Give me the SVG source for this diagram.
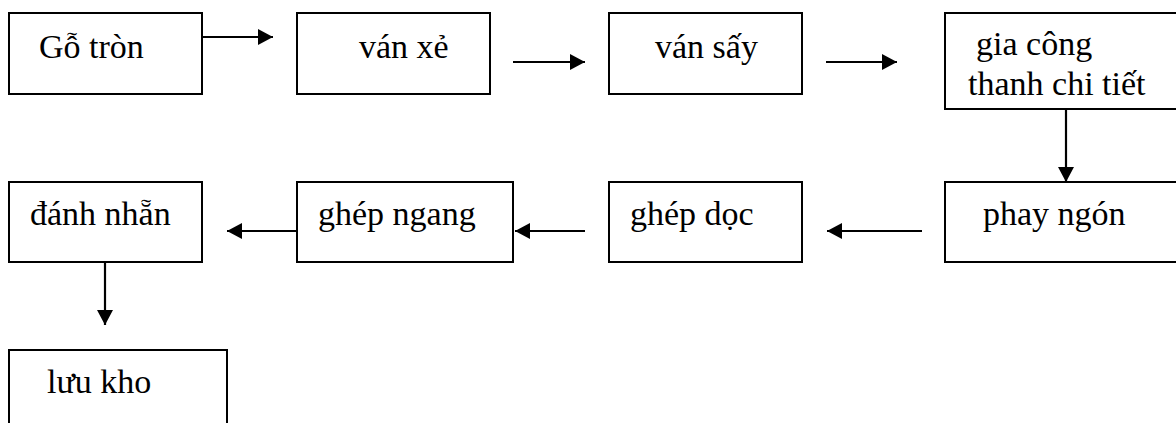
<svg xmlns="http://www.w3.org/2000/svg" width="1176" height="423" viewBox="0 0 1176 423">
  <style>
    .box { fill: #ffffff; stroke: #000000; stroke-width: 2; }
    .lbl { font-size: 34px; fill: #000000; }
    .conn { stroke: #000000; stroke-width: 2.2; fill: none; marker-end: url(#arrow); }
  </style>
  <defs>
    <marker id="arrow" markerUnits="userSpaceOnUse" markerWidth="17" markerHeight="17" refX="15" refY="8" orient="auto">
      <path d="M0,0 L15,8 L0,16 z" fill="#000000"/>
    </marker>
  </defs>
  <rect width="1176" height="423" fill="#ffffff"/>

  <g font-family="Liberation Serif, Times New Roman, DejaVu Serif, serif">
  <g id="go-tron">
    <rect class="box" x="9" y="13" width="193" height="81"/>
    <text class="lbl" x="39" y="58">Gỗ tròn</text>
  </g>
  <g id="van-xe">
    <rect class="box" x="297" y="13" width="193" height="81"/>
    <text class="lbl" x="359" y="58">ván xẻ</text>
  </g>
  <g id="van-say">
    <rect class="box" x="609" y="13" width="193" height="81"/>
    <text class="lbl" x="655" y="58">ván sấy</text>
  </g>
  <g id="gia-cong">
    <rect class="box" x="945" y="13" width="240" height="96"/>
    <text class="lbl" x="976" y="55">gia công</text>
    <text class="lbl" x="968" y="95">thanh chi tiết</text>
  </g>
  <g id="phay-ngon">
    <rect class="box" x="945" y="182" width="240" height="80"/>
    <text class="lbl" x="983" y="225">phay ngón</text>
  </g>
  <g id="ghep-doc">
    <rect class="box" x="609" y="182" width="193" height="80"/>
    <text class="lbl" x="630" y="225">ghép dọc</text>
  </g>
  <g id="ghep-ngang">
    <rect class="box" x="297" y="182" width="216" height="80"/>
    <text class="lbl" x="318" y="225">ghép ngang</text>
  </g>
  <g id="danh-nhan">
    <rect class="box" x="9" y="182" width="193" height="80"/>
    <text class="lbl" x="30" y="225">đánh nhẵn</text>
  </g>
  <g id="luu-kho">
    <rect class="box" x="9" y="350" width="218" height="90"/>
    <text class="lbl" x="47" y="393">lưu kho</text>
  </g>
  </g>

  <g id="connectors">
    <line class="conn" x1="202" y1="37" x2="273" y2="37"/>
    <line class="conn" x1="513" y1="62" x2="585" y2="62"/>
    <line class="conn" x1="826" y1="62" x2="897" y2="62"/>
    <line class="conn" x1="1066" y1="109" x2="1066" y2="182"/>
    <line class="conn" x1="922" y1="231" x2="827" y2="231"/>
    <line class="conn" x1="585" y1="231" x2="515" y2="231"/>
    <line class="conn" x1="297" y1="231" x2="227" y2="231"/>
    <line class="conn" x1="105" y1="262" x2="105" y2="325"/>
  </g>
</svg>
